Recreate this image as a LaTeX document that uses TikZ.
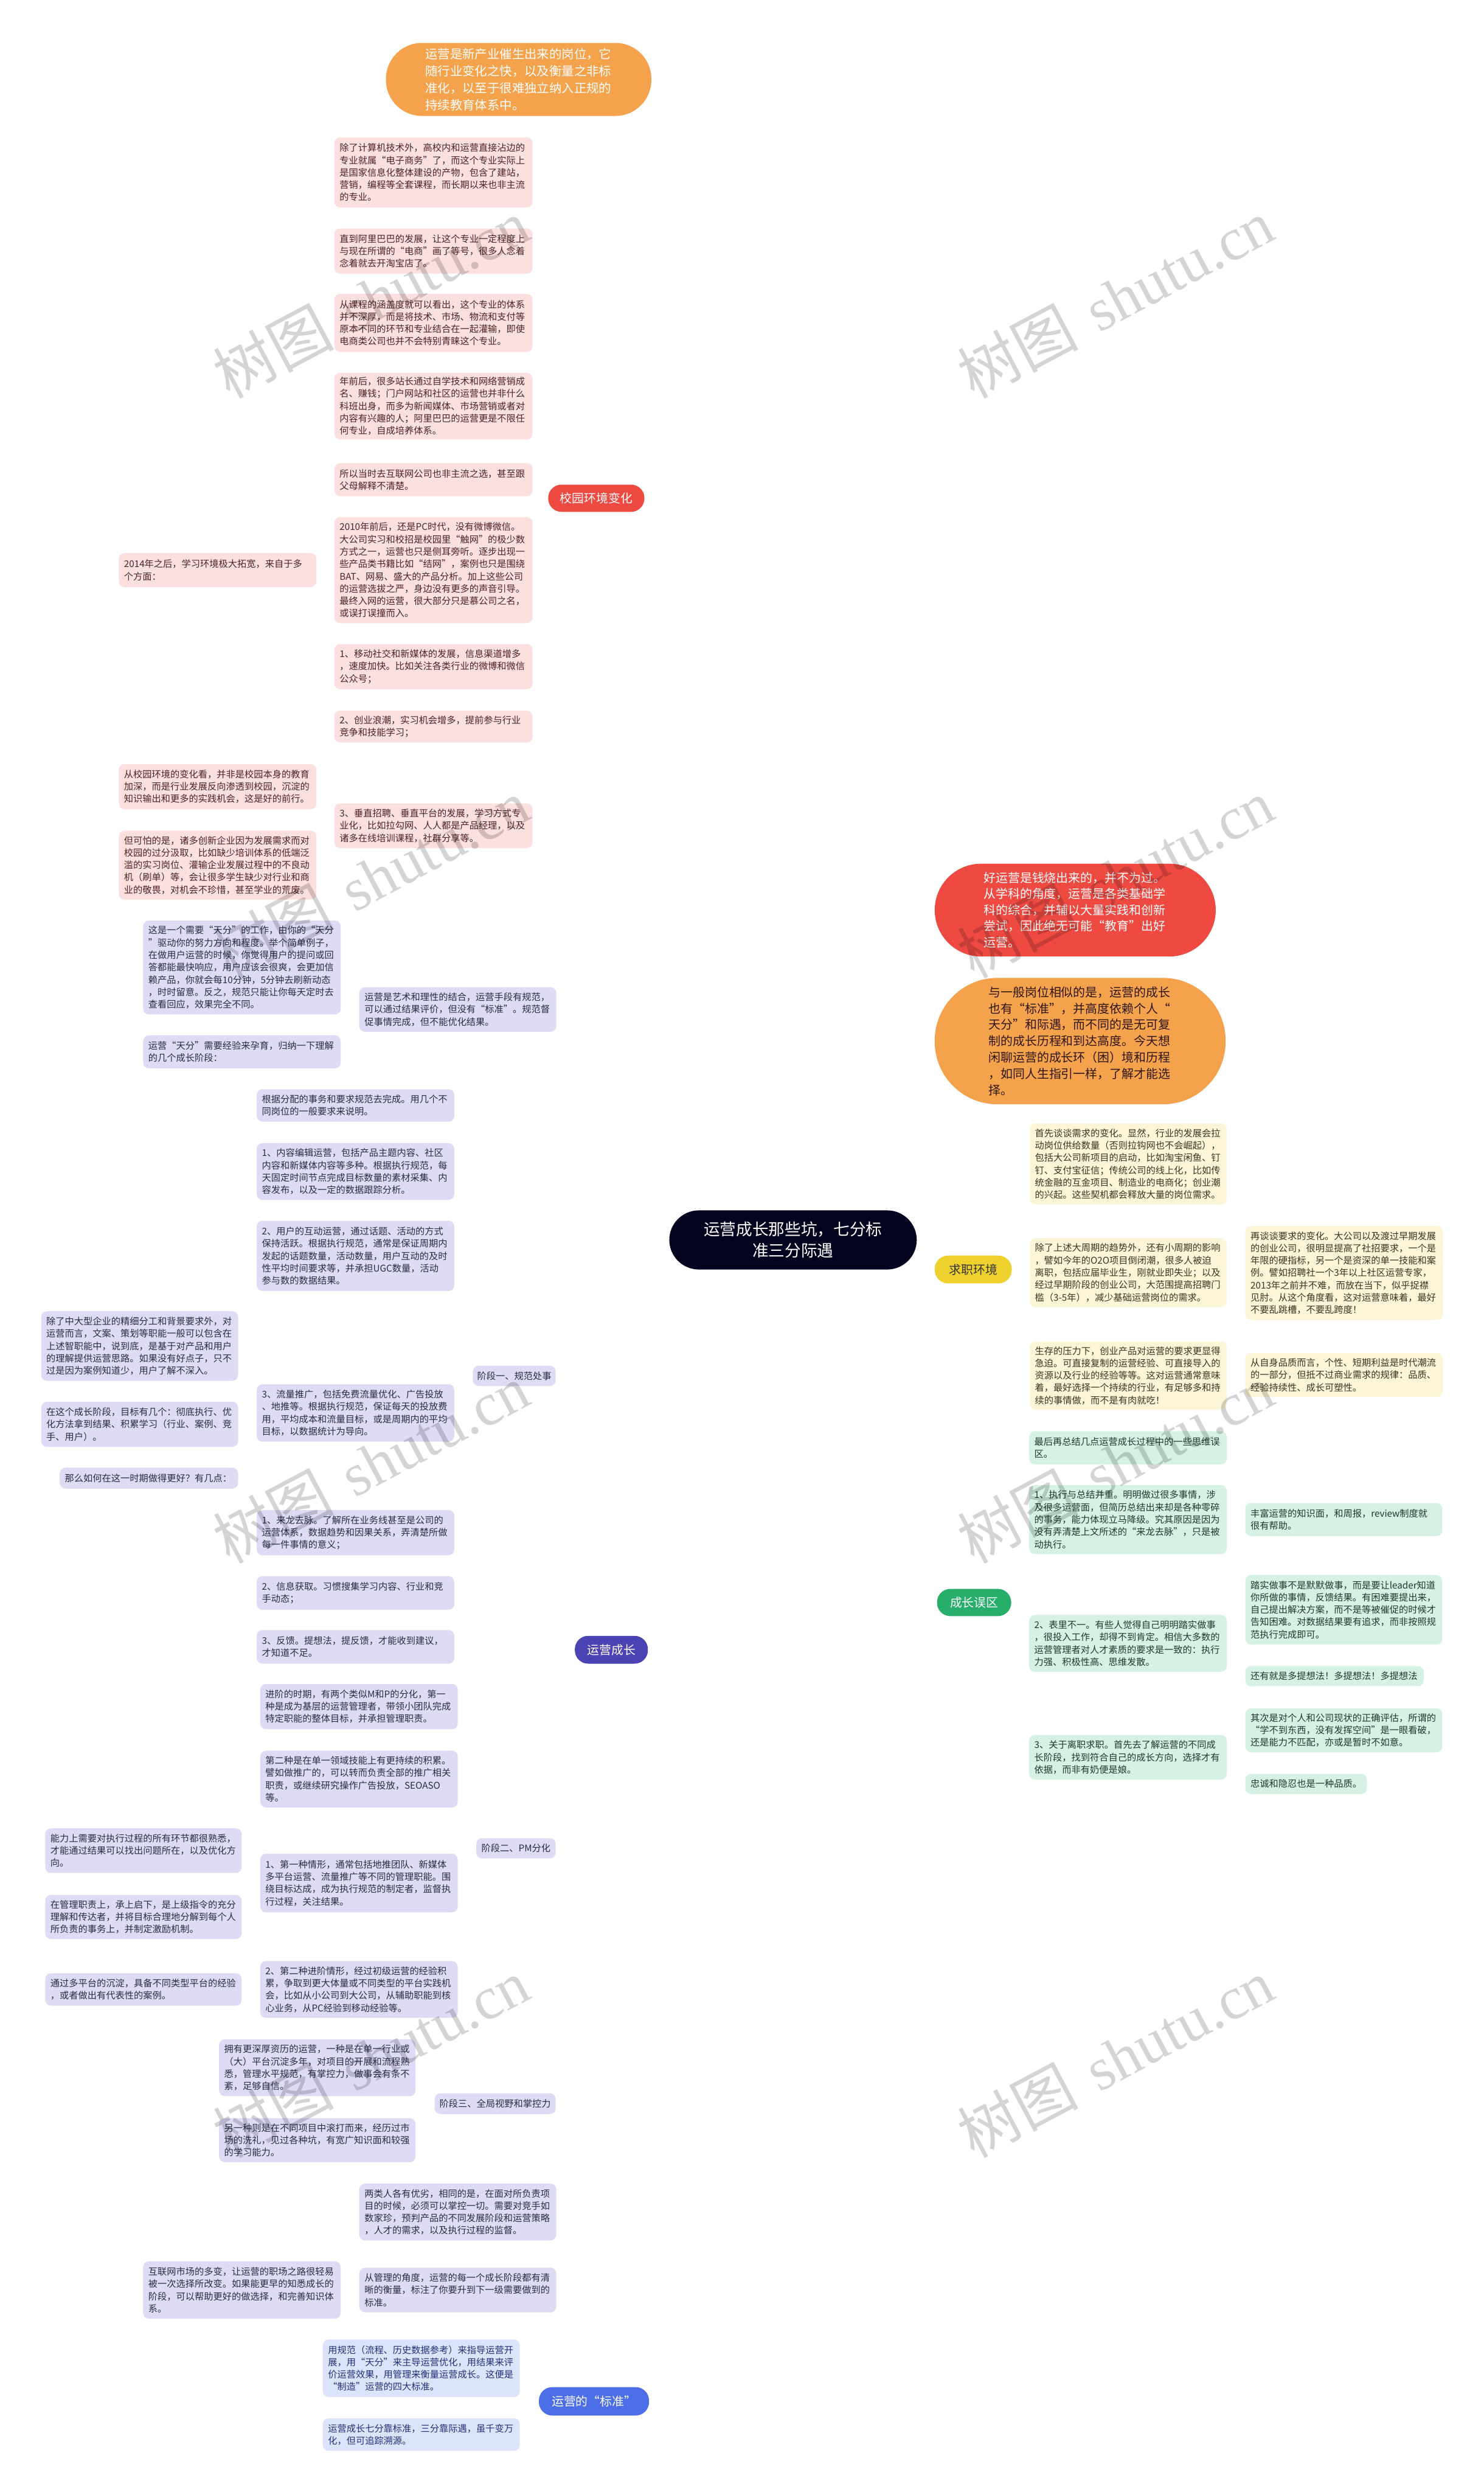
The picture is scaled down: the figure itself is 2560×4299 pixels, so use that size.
\documentclass[tikz,border=0pt]{standalone}
\usepackage{fontspec}
\setmainfont{Noto Sans CJK SC}
\newfontfamily\wmlatin{Liberation Serif}
\pgfdeclarelayer{bg}
\pgfdeclarelayer{fg}
\pgfsetlayers{bg,main,fg}

\definecolor{cRoot}{HTML}{03031F}
\definecolor{cRed}{HTML}{EE4A42}
\definecolor{cOrange}{HTML}{F4A24B}
\definecolor{cYellow}{HTML}{EFD12D}
\definecolor{cGreen}{HTML}{27AE6B}
\definecolor{cPurple}{HTML}{4B42B3}
\definecolor{cBlue}{HTML}{4C6EE6}
\definecolor{fPink}{HTML}{FCDFDF}
\definecolor{tPink}{HTML}{4D2323}
\definecolor{fLav}{HTML}{DDDCF4}
\definecolor{tLav}{HTML}{2B2B48}
\definecolor{fYel}{HTML}{FCF5D8}
\definecolor{tYel}{HTML}{3A3520}
\definecolor{fGrn}{HTML}{D6F2E4}
\definecolor{tGrn}{HTML}{1F3A2C}
\definecolor{fBlu}{HTML}{DCE4FB}
\definecolor{tBlu}{HTML}{23307A}

\newcommand\mmbox[7]{%
  \pgfmathsetmacro\bxw{(#5-#3)/2}%
  \pgfmathsetmacro\bxh{(#6-#4)/2}%
  \pgfmathsetmacro\bxt{(#5-#3)/2-9}%
  \pgfmathsetmacro\bxcx{(#3+#5)/2}%
  \pgfmathsetmacro\bxcy{(#4+#6)/2}%
  \node[#1, minimum width=\bxw pt, minimum height=\bxh pt, text width=\bxt pt] (#2) at (\bxcx,\bxcy) {#7};%
}
\newcommand\mmtag[7]{%
  \pgfmathsetmacro\bxw{(#5-#3)/2}%
  \pgfmathsetmacro\bxh{(#6-#4)/2}%
  \pgfmathsetmacro\bxcx{(#3+#5)/2}%
  \pgfmathsetmacro\bxcy{(#4+#6)/2}%
  \node[#1, minimum width=\bxw pt, minimum height=\bxh pt] (#2) at (\bxcx,\bxcy) {#7};%
}

\begin{document}
\begin{tikzpicture}[x=0.5pt,y=-0.5pt,
  mbox/.style={rectangle, rounded corners=5pt, inner xsep=4.5pt, inner ysep=1pt, align=left, font=\fontsize{8}{10.65}\selectfont, outer sep=0pt},
  pink/.style={mbox, fill=fPink, text=tPink},
  lav/.style={mbox, fill=fLav, text=tLav},
  yel/.style={mbox, fill=fYel, text=tYel},
  grn/.style={mbox, fill=fGrn, text=tGrn},
  blu/.style={mbox, fill=fBlu, text=tBlu},
  stagetag/.style={rectangle, rounded corners=5pt, inner sep=0pt, align=center, fill=fLav, text=tLav, font=\fontsize{8}{10}\selectfont, outer sep=0pt},
  branch/.style={rectangle, rounded corners=11.5pt, inner sep=0pt, align=center, font=\fontsize{10.4}{12}\selectfont, text=white, outer sep=0pt},
  bubble/.style={rectangle, inner sep=0pt, align=left, text=white, font=\fontsize{10.45}{13.9}\selectfont, outer sep=0pt},
  lnk/.style={line width=1.4pt, rounded corners=5pt},
  mainln/.style={line width=1.6pt},
  wm/.style={text=black, text opacity=0.17, rotate=28, font=\fontsize{52}{52}\selectfont, inner sep=0pt}
]
\useasboundingbox (0,0) rectangle (2560,4299);
\fill[white] (0,0) rectangle (2560,4299);

% ---------- root ----------
\node[rectangle, rounded corners=25.5pt, fill=cRoot, text=white, align=center,
  minimum width=213.5pt, minimum height=51pt, inner sep=0pt,
  font=\fontsize{14}{18.5}\selectfont] (root) at (1368.5,2139) {运营成长那些坑，七分标\\准三分际遇};

% ---------- bubbles ----------
\node[bubble, fill=cOrange, minimum width=229pt, minimum height=63pt, rounded corners=31pt,
  text width=161pt, font=\fontsize{10.7}{14.6}\selectfont] (tb) at (895,137)
  {运营是新产业催生出来的岗位，它\\随行业变化之快，以及衡量之非标\\准化，以至于很难独立纳入正规的\\持续教育体系中。};
\node[bubble, fill=cRed, minimum width=242.5pt, minimum height=80pt, rounded corners=40pt,
  text width=158pt] (rb) at (1855.5,1570)
  {好运营是钱烧出来的，并不为过。\\从学科的角度，运营是各类基础学\\科的综合，并辅以大量实践和创新\\尝试，因此绝无可能“教育”出好\\运营。};
\node[bubble, fill=cOrange, minimum width=251pt, minimum height=109pt, rounded corners=54pt,
  text width=158pt, text=tPink!60!black, font=\fontsize{10.45}{14.1}\selectfont] (ob) at (1864,1796)
  {与一般岗位相似的是，运营的成长\\也有“标准”，并高度依赖个人“\\天分”和际遇，而不同的是无可复\\制的成长历程和到达高度。今天想\\闲聊运营的成长环（困）境和历程\\，如同人生指引一样，了解才能选\\择。};

% ---------- branches ----------
\mmtag{branch, fill=cRed}{xy}{946}{836}{1112}{883}{校园环境变化}
\mmtag{branch, fill=cYellow, text=black!80}{qz}{1613}{2166}{1746}{2214}{求职环境}
\mmtag{branch, fill=cGreen}{gz}{1617}{2741}{1745}{2788}{成长误区}
\mmtag{branch, fill=cPurple}{yy}{992}{2822}{1118}{2870}{运营成长}
\mmtag{branch, fill=cBlue}{bz}{930}{4118}{1120}{4167}{运营的“标准”}

% ---------- red children ----------
\mmbox{pink}{p1}{577}{237}{919}{358}{除了计算机技术外，高校内和运营直接沾边的\\专业就属“电子商务”了，而这个专业实际上\\是国家信息化整体建设的产物，包含了建站，\\营销，编程等全套课程，而长期以来也非主流\\的专业。}
\mmbox{pink}{p2}{577}{394}{919}{472}{直到阿里巴巴的发展，让这个专业一定程度上\\与现在所谓的“电商”画了等号，很多人念着\\念着就去开淘宝店了。}
\mmbox{pink}{p3}{577}{507}{919}{607}{从课程的涵盖度就可以看出，这个专业的体系\\并不深厚，而是将技术、市场、物流和支付等\\原本不同的环节和专业结合在一起灌输，即使\\电商类公司也并不会特别青睐这个专业。}
\mmbox{pink}{p4}{577}{643}{919}{758}{年前后，很多站长通过自学技术和网络营销成\\名、赚钱；门户网站和社区的运营也并非什么\\科班出身，而多为新闻媒体、市场营销或者对\\内容有兴趣的人；阿里巴巴的运营更是不限任\\何专业，自成培养体系。}
\mmbox{pink}{p5}{577}{799}{919}{856}{所以当时去互联网公司也非主流之选，甚至跟\\父母解释不清楚。}
\mmbox{pink}{p6}{577}{892}{919}{1075}{2010年前后，还是PC时代，没有微博微信。\\大公司实习和校招是校园里“触网”的极少数\\方式之一，运营也只是侧耳旁听。逐步出现一\\些产品类书籍比如“结网”，案例也只是围绕\\BAT、网易、盛大的产品分析。加上这些公司\\的运营选拔之严，身边没有更多的声音引导。\\最终入网的运营，很大部分只是慕公司之名，\\或误打误撞而入。}
\mmbox{pink}{c14}{205}{954}{546}{1013}{2014年之后，学习环境极大拓宽，来自于多\\个方面：}
\mmbox{pink}{p7}{577}{1111}{919}{1189}{1、移动社交和新媒体的发展，信息渠道增多\\，速度加快。比如关注各类行业的微博和微信\\公众号；}
\mmbox{pink}{p8}{577}{1226}{919}{1281}{2、创业浪潮，实习机会增多，提前参与行业\\竞争和技能学习；}
\mmbox{pink}{p9}{577}{1386}{919}{1463}{3、垂直招聘、垂直平台的发展，学习方式专\\业化，比如拉勾网、人人都是产品经理，以及\\诸多在线培训课程，社群分享等。}
\mmbox{pink}{p9a}{205}{1318}{546}{1396}{从校园环境的变化看，并非是校园本身的教育\\加深，而是行业发展反向渗透到校园，沉淀的\\知识输出和更多的实践机会，这是好的前行。}
\mmbox{pink}{p9b}{205}{1433}{546}{1552}{但可怕的是，诸多创新企业因为发展需求而对\\校园的过分汲取，比如缺少培训体系的低端泛\\滥的实习岗位、灌输企业发展过程中的不良动\\机（刷单）等，会让很多学生缺少对行业和商\\业的敬畏，对机会不珍惜，甚至学业的荒废。}

% ---------- yellow children ----------
\mmbox{yel}{y1}{1777}{1938}{2117}{2078}{首先谈谈需求的变化。显然，行业的发展会拉\\动岗位供给数量（否则拉钩网也不会崛起），\\包括大公司新项目的启动，比如淘宝闲鱼、钉\\钉、支付宝征信；传统公司的线上化，比如传\\统金融的互金项目、制造业的电商化；创业潮\\的兴起。这些契机都会释放大量的岗位需求。}
\mmbox{yel}{y2}{1777}{2136}{2117}{2255}{除了上述大周期的趋势外，还有小周期的影响\\，譬如今年的O2O项目倒闭潮，很多人被迫\\离职，包括应届毕业生，刚就业即失业；以及\\经过早期阶段的创业公司，大范围提高招聘门\\槛（3-5年），减少基础运营岗位的需求。}
\mmbox{yel}{y2c}{2149}{2115}{2490}{2277}{再谈谈要求的变化。大公司以及渡过早期发展\\的创业公司，很明显提高了社招要求，一个是\\年限的硬指标，另一个是资深的单一技能和案\\例。譬如招聘社一个3年以上社区运营专家，\\2013年之前并不难，而放在当下，似乎捉襟\\见肘。从这个角度看，这对运营意味着，最好\\不要乱跳槽，不要乱跨度！}
\mmbox{yel}{y3}{1777}{2314}{2117}{2432}{生存的压力下，创业产品对运营的要求更显得\\急迫。可直接复制的运营经验、可直接导入的\\资源以及行业的经验等等。这对运营通常意味\\着，最好选择一个持续的行业，有足够多和持\\续的事情做，而不是有肉就吃！}
\mmbox{yel}{y3c}{2149}{2334}{2490}{2410}{从自身品质而言，个性、短期利益是时代潮流\\的一部分，但抵不过商业需求的规律：品质、\\经验持续性、成长可塑性。}

% ---------- green children ----------
\mmbox{grn}{g1}{1776}{2469}{2117}{2526}{最后再总结几点运营成长过程中的一些思维误\\区。}
\mmbox{grn}{g2}{1776}{2562}{2117}{2681}{1、执行与总结并重。明明做过很多事情，涉\\及很多运营面，但简历总结出来却是各种零碎\\的事务，能力体现立马降级。究其原因是因为\\没有弄清楚上文所述的“来龙去脉”，只是被\\动执行。}
\mmbox{grn}{g2c}{2149}{2593}{2489}{2650}{丰富运营的知识面，和周报，review制度就\\很有帮助。}
\mmbox{grn}{g3}{1776}{2786}{2117}{2884}{2、表里不一。有些人觉得自己明明踏实做事\\，很投入工作，却得不到肯定。相信大多数的\\运营管理者对人才素质的要求是一致的：执行\\力强、积极性高、思维发散。}
\mmbox{grn}{g3a}{2149}{2717}{2489}{2837}{踏实做事不是默默做事，而是要让leader知道\\你所做的事情，反馈结果。有困难要提出来，\\自己提出解决方案，而不是等被催促的时候才\\告知困难。对数据结果要有追求，而非按照规\\范执行完成即可。}
\mmbox{grn}{g3b}{2149}{2874}{2457}{2909}{还有就是多提想法！多提想法！多提想法}
\mmbox{grn}{g4}{1776}{2993}{2117}{3070}{3、关于离职求职。首先去了解运营的不同成\\长阶段，找到符合自己的成长方向，选择才有\\依据，而非有奶便是娘。}
\mmbox{grn}{g4a}{2149}{2947}{2489}{3023}{其次是对个人和公司现状的正确评估，所谓的\\“学不到东西，没有发挥空间”是一眼看破，\\还是能力不匹配，亦或是暂时不如意。}
\mmbox{grn}{g4b}{2149}{3060}{2359}{3095}{忠诚和隐忍也是一种品质。}

% ---------- purple children ----------
\mmbox{lav}{a0}{620}{1703}{960}{1780}{运营是艺术和理性的结合，运营手段有规范，\\可以通过结果评价，但没有“标准”。规范督\\促事情完成，但不能优化结果。}
\mmbox{lav}{a0a}{247}{1588}{588}{1750}{这是一个需要“天分”的工作，由你的“天分\\”驱动你的努力方向和程度。举个简单例子，\\在做用户运营的时候，你觉得用户的提问或回\\答都能最快响应，用户应该会很爽，会更加信\\赖产品，你就会每10分钟，5分钟去刷新动态\\，时时留意。反之，规范只能让你每天定时去\\查看回应，效果完全不同。}
\mmbox{lav}{a0b}{247}{1786}{588}{1843}{运营“天分”需要经验来孕育，归纳一下理解\\的几个成长阶段：}
\mmtag{stagetag}{s1}{816}{2356}{959}{2391}{阶段一、规范处事}
\mmbox{lav}{s1a}{443}{1879}{784}{1935}{根据分配的事务和要求规范去完成。用几个不\\同岗位的一般要求来说明。}
\mmbox{lav}{s1b}{443}{1972}{784}{2070}{1、内容编辑运营，包括产品主题内容、社区\\内容和新媒体内容等多种。根据执行规范，每\\天固定时间节点完成目标数量的素材采集、内\\容发布，以及一定的数据跟踪分析。}
\mmbox{lav}{s1c}{443}{2106}{784}{2227}{2、用户的互动运营，通过话题、活动的方式\\保持活跃。根据执行规范，通常是保证周期内\\发起的话题数量，活动数量，用户互动的及时\\性平均时间要求等，并承担UGC数量，活动\\参与数的数据结果。}
\mmbox{lav}{s1d}{443}{2388}{784}{2487}{3、流量推广，包括免费流量优化、广告投放\\、地推等。根据执行规范，保证每天的投放费\\用，平均成本和流量目标，或是周期内的平均\\目标，以数据统计为导向。}
\mmbox{lav}{s1d1}{71}{2262}{411}{2382}{除了中大型企业的精细分工和背景要求外，对\\运营而言，文案、策划等职能一般可以包含在\\上述智职能中，说到底，是基于对产品和用户\\的理解提供运营思路。如果没有好点子，只不\\过是因为案例知道少，用户了解不深入。}
\mmbox{lav}{s1d2}{71}{2418}{411}{2496}{在这个成长阶段，目标有几个：彻底执行、优\\化方法拿到结果、积累学习（行业、案例、竞\\手、用户）。}
\mmbox{lav}{s1d3}{103}{2532}{411}{2568}{那么如何在这一时期做得更好？有几点：}
\mmbox{lav}{s1e}{443}{2605}{784}{2683}{1、来龙去脉。了解所在业务线甚至是公司的\\运营体系，数据趋势和因果关系，弄清楚所做\\每一件事情的意义；}
\mmbox{lav}{s1f}{443}{2719}{784}{2777}{2、信息获取。习惯搜集学习内容、行业和竞\\手动态；}
\mmbox{lav}{s1g}{443}{2812}{784}{2870}{3、反馈。提想法，提反馈，才能收到建议，\\才知道不足。}
\mmtag{stagetag}{s2}{822}{3171}{959}{3206}{阶段二、PM分化}
\mmbox{lav}{s2a}{449}{2905}{790}{2983}{进阶的时期，有两个类似M和P的分化，第一\\种是成为基层的运营管理者，带领小团队完成\\特定职能的整体目标，并承担管理职责。}
\mmbox{lav}{s2b}{449}{3020}{790}{3118}{第二种是在单一领域技能上有更持续的积累。\\譬如做推广的，可以转而负责全部的推广相关\\职责，或继续研究操作广告投放，SEOASO\\等。}
\mmbox{lav}{s2c}{449}{3198}{790}{3299}{1、第一种情形，通常包括地推团队、新媒体\\多平台运营、流量推广等不同的管理职能。围\\绕目标达成，成为执行规范的制定者，监督执\\行过程，关注结果。}
\mmbox{lav}{s2c1}{78}{3154}{417}{3231}{能力上需要对执行过程的所有环节都很熟悉，\\才能通过结果可以找出问题所在，以及优化方\\向。}
\mmbox{lav}{s2c2}{78}{3269}{417}{3345}{在管理职责上，承上启下，是上级指令的充分\\理解和传达者，并将目标合理地分解到每个人\\所负责的事务上，并制定激励机制。}
\mmbox{lav}{s2d}{449}{3383}{790}{3481}{2、第二种进阶情形，经过初级运营的经验积\\累，争取到更大体量或不同类型的平台实践机\\会，比如从小公司到大公司，从辅助职能到核\\心业务，从PC经验到移动经验等。}
\mmbox{lav}{s2d1}{78}{3404}{417}{3460}{通过多平台的沉淀，具备不同类型平台的经验\\，或者做出有代表性的案例。}
\mmtag{stagetag}{s3}{750}{3611}{959}{3647}{阶段三、全局视野和掌控力}
\mmbox{lav}{s3a}{378}{3518}{717}{3616}{拥有更深厚资历的运营，一种是在单一行业或\\（大）平台沉淀多年，对项目的开展和流程熟\\悉，管理水平规范，有掌控力，做事会有条不\\紊，足够自信。}
\mmbox{lav}{s3b}{378}{3654}{717}{3730}{另一种则是在不同项目中滚打而来，经历过市\\场的洗礼，见过各种坑，有宽广知识面和较强\\的学习能力。}
\mmbox{lav}{a4}{620}{3767}{960}{3865}{两类人各有优劣，相同的是，在面对所负责项\\目的时候，必须可以掌控一切。需要对竞手如\\数家珍，预判产品的不同发展阶段和运营策略\\，人才的需求，以及执行过程的监督。}
\mmbox{lav}{a5}{620}{3912}{960}{3989}{从管理的角度，运营的每一个成长阶段都有清\\晰的衡量，标注了你要升到下一级需要做到的\\标准。}
\mmbox{lav}{a5a}{247}{3901}{588}{4000}{互联网市场的多变，让运营的职场之路很轻易\\被一次选择所改变。如果能更早的知悉成长的\\阶段，可以帮助更好的做选择，和完善知识体\\系。}

% ---------- blue children ----------
\mmbox{blu}{b1}{557}{4036}{897}{4135}{用规范（流程、历史数据参考）来指导运营开\\展，用“天分”来主导运营优化，用结果来评\\价运营效果，用管理来衡量运营成长。这便是\\“制造”运营的四大标准。}
\mmbox{blu}{b2}{557}{4172}{897}{4228}{运营成长七分靠标准，三分靠际遇，虽千变万\\化，但可追踪溯源。}

% ---------- connectors ----------
\begin{pgfonlayer}{bg}
\draw[mainln, cOrange] (root.north) .. controls (1368,625) and (1270,137) .. (tb.east);
\draw[mainln, cRed] (root.north) .. controls (1368,1167) and (1266,860) .. (xy.east);
\draw[mainln, cRed] (root.north) .. controls (1368,1700) and (1466,1570) .. (rb.west);
\draw[mainln, cOrange] (root.north) .. controls (1368,1869) and (1466,1796) .. (ob.west);
\draw[mainln, cYellow] (root.south) -- (qz.west);
\draw[mainln, cGreen] (root.south) .. controls (1370,2621) and (1469,2764) .. (gz.west);
\draw[mainln, cPurple] (root.south) .. controls (1366,2682) and (1267,2846) .. (yy.east);
\draw[mainln, cBlue] (root.south) .. controls (1366,3654) and (1268,4142) .. (bz.east);

\foreach \c in {p1,p2,p3,p4,p5,p6,p7,p8,p9} \draw[lnk, cRed] (xy.west) -- ++(-14,0) |- (\c.east);
\draw[lnk, cRed] (p6.west) -- (c14.east);
\foreach \c in {p9a,p9b} \draw[lnk, cRed] (p9.west) -- ++(-16,0) |- (\c.east);

\foreach \c in {y1,y2,y3} \draw[lnk, cYellow] (qz.east) -- ++(15,0) |- (\c.west);
\draw[lnk, cYellow] (y2.east) -- (y2c.west);
\draw[lnk, cYellow] (y3.east) -- (y3c.west);

\foreach \c in {g1,g2,g3,g4} \draw[lnk, cGreen] (gz.east) -- ++(13,0) |- (\c.west);
\draw[lnk, cGreen] (g2.east) -- (g2c.west);
\foreach \c in {g3a,g3b} \draw[lnk, cGreen] (g3.east) -- ++(17,0) |- (\c.west);
\foreach \c in {g4a,g4b} \draw[lnk, cGreen] (g4.east) -- ++(17,0) |- (\c.west);

\foreach \c in {a0,s1,s2,s3,a4,a5} \draw[lnk, cPurple] (yy.west) -- ++(-16,0) |- (\c.east);
\foreach \c in {a0a,a0b} \draw[lnk, cPurple] (a0.west) -- ++(-16,0) |- (\c.east);
\foreach \c in {s1a,s1b,s1c,s1d,s1e,s1f,s1g} \draw[lnk, cPurple] (s1.west) -- ++(-16,0) |- (\c.east);
\foreach \c in {s1d1,s1d2,s1d3} \draw[lnk, cPurple] (s1d.west) -- ++(-16,0) |- (\c.east);
\foreach \c in {s2a,s2b,s2c,s2d} \draw[lnk, cPurple] (s2.west) -- ++(-17,0) |- (\c.east);
\foreach \c in {s2c1,s2c2} \draw[lnk, cPurple] (s2c.west) -- ++(-16,0) |- (\c.east);
\draw[lnk, cPurple] (s2d.west) -- (s2d1.east);
\foreach \c in {s3a,s3b} \draw[lnk, cPurple] (s3.west) -- ++(-15,0) |- (\c.east);
\draw[lnk, cPurple] (a5.west) -- (a5a.east);

\foreach \c in {b1,b2} \draw[lnk, cBlue] (bz.west) -- ++(-17,0) |- (\c.east);
\end{pgfonlayer}

% ---------- watermarks ----------
\begin{pgfonlayer}{fg}
\foreach \wx/\wy [count=\i] in {640/515,1925/515,640/1515,1925/1515,640/2525,1925/2525,640/3550,1925/3550}
  \node[wm] (wm\i) at (\wx,\wy) {树图\hspace{0.35em}{\wmlatin shutu.cn}};
\end{pgfonlayer}
\end{tikzpicture}
\end{document}
